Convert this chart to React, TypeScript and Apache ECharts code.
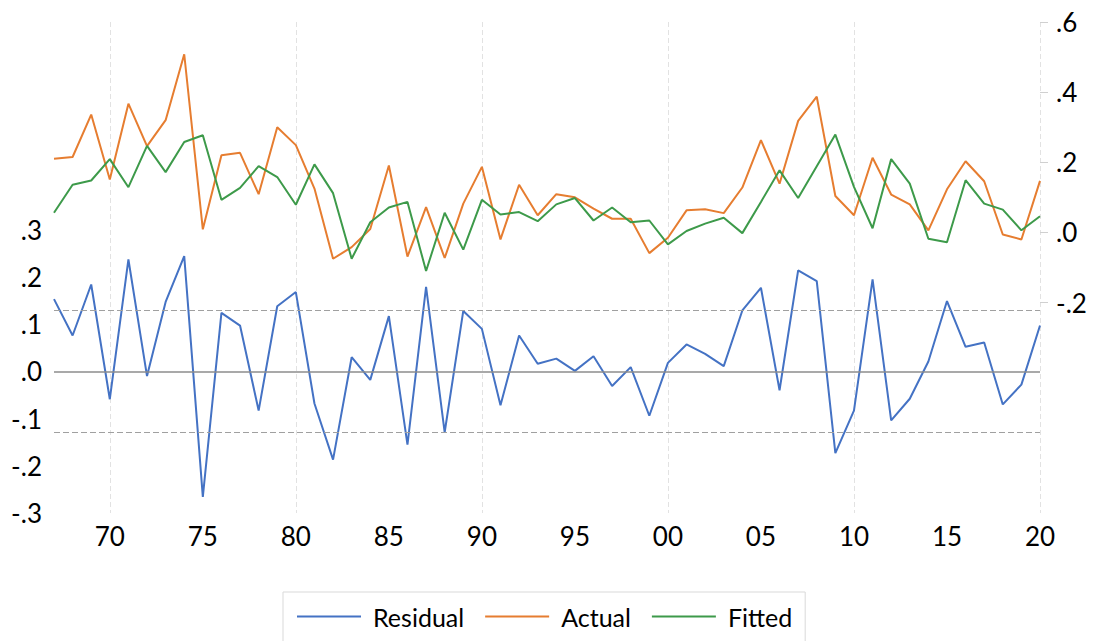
import React, { useEffect, useRef } from "react";
import * as echarts from "echarts";

const years: string[] = [];
for (let y = 1967; y <= 2020; y++) years.push(String(y));

const residual = [
  0.153, 0.076, 0.184, -0.059, 0.237, -0.01, 0.147, 0.244, -0.266, 0.124, 0.097, -0.083, 0.138, 0.168,
  -0.068, -0.187, 0.03, -0.018, 0.117, -0.155, 0.179, -0.129, 0.128, 0.09, -0.072, 0.076, 0.016, 0.027, 0.001,
  0.032, -0.031, 0.009, -0.094, 0.018, 0.057, 0.037, 0.011, 0.129, 0.177, -0.04, 0.214, 0.191, -0.173, -0.083,
  0.195, -0.104, -0.058, 0.021, 0.149, 0.052, 0.061, -0.07, -0.028, 0.097,
];

const actual = [
  0.21, 0.215, 0.336, 0.151, 0.367, 0.246, 0.32, 0.508, 0.009, 0.22, 0.227, 0.109, 0.3, 0.249,
  0.125, -0.075, -0.042, 0.01, 0.191, -0.069, 0.072, -0.073, 0.082, 0.187, -0.02, 0.136, 0.049, 0.109, 0.1,
  0.068, 0.039, 0.039, -0.059, -0.015, 0.063, 0.066, 0.055, 0.128, 0.263, 0.139, 0.318, 0.387, 0.104, 0.049,
  0.213, 0.108, 0.08, 0.006, 0.123, 0.203, 0.146, -0.006, -0.02, 0.147,
];

const fitted = [
  0.056, 0.136, 0.148, 0.209, 0.129, 0.247, 0.172, 0.258, 0.277, 0.093, 0.127, 0.189, 0.158, 0.079,
  0.194, 0.112, -0.075, 0.029, 0.071, 0.087, -0.11, 0.056, -0.049, 0.093, 0.051, 0.058, 0.032, 0.08, 0.098,
  0.034, 0.071, 0.029, 0.034, -0.034, 0.004, 0.025, 0.042, -0.002, 0.087, 0.177, 0.098, 0.189, 0.279, 0.13,
  0.012, 0.209, 0.139, -0.018, -0.028, 0.149, 0.082, 0.065, 0.006, 0.046,
];

const leftTicks = [-0.3, -0.2, -0.1, 0, 0.1, 0.2, 0.3];
const rightTicks = [-0.2, 0, 0.2, 0.4, 0.6];
const seOfRegression = 0.125;

const FONT = "Lato";

function fmt(v: number): string {
  const s = (Math.round(v * 10) / 10).toFixed(1);
  return s.replace(/^(-?)0\./, "$1.");
}

export default function App() {
  const ref = useRef<HTMLDivElement>(null);
  useEffect(() => {
    if (!ref.current) return;
    const chart = echarts.init(ref.current, undefined, { renderer: "svg" });
    chart.setOption({
      animation: false,
      backgroundColor: "#ffffff",
      textStyle: { fontFamily: FONT },
      grid: { left: 54, right: 54, top: 22, bottom: 128, containLabel: false },
      legend: {
        data: ["Residual", "Actual", "Fitted"],
        left: 283,
        top: 592,
        padding: [12, 13, 30, 14],
        borderColor: "#d9d9d9",
        borderWidth: 1,
        itemWidth: 64,
        itemHeight: 2,
        itemGap: 21,
        icon: "rect",
        textStyle: { fontFamily: FONT, fontSize: 25, color: "#000", padding: [0, 0, 0, 7] },
      },
      xAxis: {
        type: "category",
        data: years,
        boundaryGap: false,
        axisLine: { show: false },
        axisTick: { show: false },
        axisLabel: {
          interval: (i: number, v: string) => Number(v) % 5 === 0,
          formatter: (v: string) => v.slice(2),
          fontSize: 26,
          color: "#000",
          margin: 10,
          fontFamily: FONT,
        },
        splitLine: {
          show: true,
          interval: (i: number, v: string) => Number(v) % 10 === 0,
          lineStyle: { color: "#e2e2e2", type: [5, 3], width: 1 },
        },
      },
      yAxis: [
        {
          type: "value",
          position: "left",
          min: -0.3,
          max: 0.74,
          interval: 0.1,
          axisLine: { show: false },
          axisTick: { show: false },
          splitLine: { show: false },
          axisLabel: {
            customValues: leftTicks,
            formatter: (v: number) => (v <= 0.31 ? fmt(v) : ""),
            fontSize: 26,
            color: "#000",
            margin: 12,
            fontFamily: FONT,
          },
        },
        {
          type: "value",
          position: "right",
          min: -0.8,
          max: 0.6,
          interval: 0.2,
          axisLine: { show: false },
          axisTick: {
            show: true,
            customValues: rightTicks,
            length: 8,
            lineStyle: { color: "#d0d0d0", width: 1 },
          },
          splitLine: { show: false },
          axisLabel: {
            customValues: rightTicks,
            formatter: (v: number) => (v >= -0.21 ? fmt(v) : ""),
            fontSize: 26,
            color: "#000",
            margin: 16,
            fontFamily: FONT,
          },
        },
      ],
      series: [
        {
          name: "Residual",
          type: "line",
          yAxisIndex: 0,
          data: residual,
          symbol: "none",
          showSymbol: false,
          lineStyle: { color: "#4472C4", width: 2 },
          itemStyle: { color: "#4472C4" },
          z: 3,
          markLine: {
            silent: true,
            symbol: "none",
            label: { show: false },
            data: [
              { yAxis: 0, lineStyle: { type: "solid", color: "#8c8c8c", width: 1.6 } },
              { yAxis: seOfRegression, lineStyle: { type: [6, 3], color: "#a0a0a0", width: 1.2 } },
              { yAxis: -seOfRegression, lineStyle: { type: [6, 3], color: "#a0a0a0", width: 1.2 } },
            ],
          },
        },
        {
          name: "Actual",
          type: "line",
          yAxisIndex: 1,
          data: actual,
          symbol: "none",
          showSymbol: false,
          lineStyle: { color: "#E67D30", width: 2 },
          itemStyle: { color: "#E67D30" },
          z: 4,
        },
        {
          name: "Fitted",
          type: "line",
          yAxisIndex: 1,
          data: fitted,
          symbol: "none",
          showSymbol: false,
          lineStyle: { color: "#3D9A4A", width: 2 },
          itemStyle: { color: "#3D9A4A" },
          z: 5,
        },
      ],
    });
    return () => chart.dispose();
  }, []);
  return (
    <div
      ref={ref}
      style={{ position: "fixed", left: 0, top: 0, width: 1094, height: 641 }}
    />
  );
}
